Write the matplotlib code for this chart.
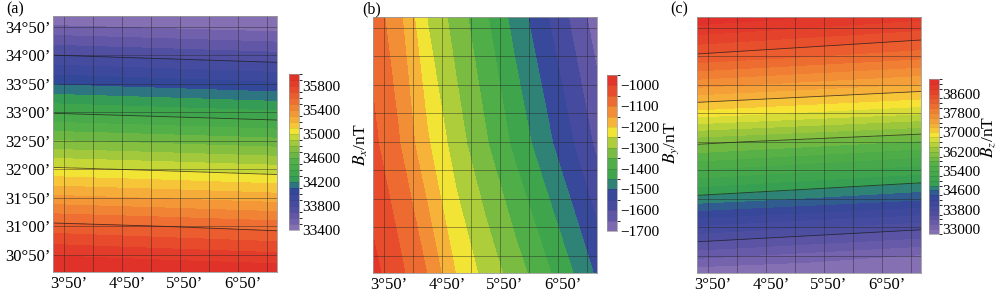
import numpy as np
import matplotlib
matplotlib.use('Agg')
import matplotlib.pyplot as plt
from matplotlib.colors import LinearSegmentedColormap, ListedColormap, BoundaryNorm

plt.rcParams['font.family'] = ['Liberation Serif', 'DejaVu Serif']
plt.rcParams['mathtext.fontset'] = 'stix'

# ---------------- data ----------------
# longitude / latitude sample positions (degrees)
lon_cols3 = [3.56, 5.49, 7.42]
lat_rows11 = [30.45, 30.75, 31.25, 31.75, 32.25, 32.75, 33.25, 33.75, 34.25, 34.75, 34.94]

# (a) Bx (nT) along west / middle / east columns, south -> north
bx_west = [36050, 35894, 35637, 35327, 35022, 34705, 34390, 34090, 33802, 33513, 33400]
bx_mid = [36010, 35855, 35600, 35290, 34985, 34668, 34353, 34053, 33766, 33482, 33370]
bx_east = [35975, 35820, 35560, 35250, 34945, 34630, 34315, 34015, 33730, 33450, 33340]

# (b) By (nT) along south / centre / north rows, west -> east
lon_cols9 = [3.56, 4.0, 4.5, 5.0, 5.5, 6.0, 6.5, 7.0, 7.42]
lat_rows3 = [30.45, 32.7, 34.94]
by_south = [-985, -1035, -1102, -1204, -1267, -1324, -1384, -1449, -1509]
by_centre = [-1037, -1095, -1193, -1276, -1343, -1411, -1477, -1547, -1611]
by_north = [-1070, -1135, -1253, -1323, -1393, -1468, -1538, -1611, -1678]

# (c) Bz (nT) along west / middle / east columns, south -> north
bz_west = [32850, 33260, 33947, 34720, 35377, 36059, 36907, 37665, 38351, 38942, 39150]
bz_mid = [32705, 33115, 33802, 34575, 35232, 35914, 36762, 37520, 38206, 38797, 39005]
bz_east = [32560, 32970, 33657, 34430, 35087, 35769, 36617, 37375, 38061, 38652, 38860]

# colour levels and colourbar ticks
levels_a = list(range(33400, 36001, 100))
levels_b = list(range(-1700, -949, 50))
levels_c = list(range(32800, 39201, 200))
cbticks_a = [33400, 33800, 34200, 34600, 35000, 35400, 35800]
cbticks_b = [-1700, -1600, -1500, -1400, -1300, -1200, -1100, -1000]
cbticks_c = [33000, 33800, 34600, 35400, 36200, 37000, 37800, 38600]
lines_a = [33800, 34400, 35000, 35600]
lines_c = [33600, 34800, 36000, 37200, 38400]

xtick_pos = [3.833, 4.833, 5.833, 6.833]
xtick_lab = ['3°50’', '4°50’', '5°50’', '6°50’']
ytick_pos = [30.75, 31.25, 31.75, 32.25, 32.75, 33.25, 33.75, 34.25, 34.75]
ytick_lab = ['30°50’', '31°00’', '31°50’', '32°00’', '32°50’', '33°00’',
             '33°50’', '34°00’', '34°50’']
vgrid = [3.75, 4.25, 4.75, 5.25, 5.75, 6.25, 6.75, 7.25]

# ---------------- style ----------------
anchors = [(0.00, '#8C76B6'), (0.06, '#6F5EAA'), (0.15, '#4A4CA0'), (0.25, '#34479A'),
           (0.29, '#2D7A80'), (0.33, '#36A050'), (0.45, '#55B046'), (0.55, '#9CC63C'),
           (0.60, '#C9D837'), (0.64, '#F7E634'), (0.69, '#F7B83A'), (0.77, '#F28E36'),
           (0.85, '#EC632F'), (0.93, '#E5402B'), (1.00, '#E02E2A')]
base = LinearSegmentedColormap.from_list('origin_rainbow', anchors)

W, H = 1000, 294
fig = plt.figure(figsize=(W / 100, H / 100), dpi=100)


def fr(l, t, r, b):
    return [l / W, 1 - b / H, (r - l) / W, (b - t) / H]


def panel(axbox, cbbox, X, Y, Z, levels, cbticks, lines, letter, lblx, lbly, label, ylabels):
    ax = fig.add_axes(axbox)
    n = len(levels) - 1
    cmap = ListedColormap(base((np.arange(n) + 0.5) / n))
    norm = BoundaryNorm(levels, n)
    Zc = np.clip(np.asarray(Z, float), levels[0], levels[-1])
    cs = ax.contourf(X, Y, Zc, levels=levels, cmap=cmap, norm=norm)
    if lines:
        ax.contour(X, Y, Zc, levels=lines, colors='#1a1a1a', linewidths=0.6, alpha=0.75)
    for v in vgrid:
        ax.axvline(v, color='#222222', lw=0.6, alpha=0.5)
    for v in ytick_pos:
        ax.axhline(v, color='#222222', lw=0.6, alpha=0.5)
    ax.set_xlim(3.56, 7.42)
    ax.set_ylim(30.45, 34.94)
    ax.set_xticks(xtick_pos)
    ax.set_xticklabels(xtick_lab)
    if ylabels:
        ax.set_yticks(ytick_pos)
        ax.set_yticklabels(ytick_lab)
    else:
        ax.set_yticks([])
    ax.tick_params(length=0, labelsize=12, pad=3)
    ax.tick_params(axis='y', pad=2)
    for s in ax.spines.values():
        s.set_color('#999999')
        s.set_linewidth(0.6)
    cax = fig.add_axes(cbbox)
    cb = fig.colorbar(cs, cax=cax, ticks=cbticks, drawedges=True)
    cb.dividers.set_color((0, 0, 0, 0.12))
    cb.dividers.set_linewidth(0.5)
    cb.outline.set_edgecolor('#999999')
    cb.outline.set_linewidth(0.5)
    cax.tick_params(length=0, labelsize=11, pad=2)
    fig.text(letter[0], letter[1], letter[2], fontsize=11.5, ha='left', va='top')
    fig.text(lblx, lbly, label, rotation=90, fontsize=12.5, ha='center', va='center')
    return ax


# (a)
Xa, Ya = np.meshgrid(lon_cols3, lat_rows11)
Za = np.column_stack([bx_west, bx_mid, bx_east])
panel(fr(53, 16, 277, 272), fr(289, 74, 299, 230), Xa, Ya, Za, levels_a, cbticks_a, lines_a,
      (6 / W, 1 - 1 / H, '(a)'), 361 / W, 1 - 145 / H, r'$B_x$/nT', True)

# (b)
Xb, Yb = np.meshgrid(lon_cols9, lat_rows3)
Zb = np.vstack([by_south, by_centre, by_north])
panel(fr(373, 17, 597, 273), fr(607, 75, 617, 231), Xb, Yb, Zb, levels_b, cbticks_b, None,
      (362 / W, 1 - 1 / H, '(b)'), 671 / W, 1 - 143 / H, r'$B_y$/nT', False)

# (c)
Xc, Yc = np.meshgrid(lon_cols3, lat_rows11)
Zc = np.column_stack([bz_west, bz_mid, bz_east])
panel(fr(697, 17, 921, 273), fr(929, 79, 939, 234), Xc, Yc, Zc, levels_c, cbticks_c, lines_c,
      (670 / W, 1 - 1 / H, '(c)'), 989 / W, 1 - 137 / H, r'$B_z$/nT', False)

fig.savefig('out.png', dpi=100)
